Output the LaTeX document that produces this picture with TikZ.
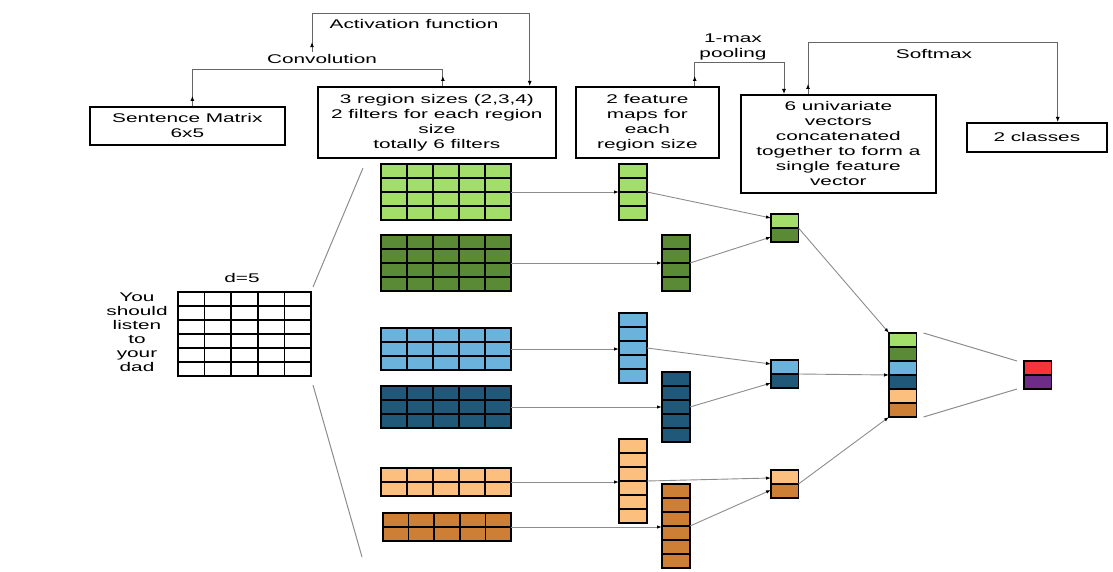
\documentclass[tikz,border=0pt]{standalone}
\usepackage{fontspec}
\newfontfamily\diagfont[FakeStretch=1.65]{Liberation Sans}
\usetikzlibrary{arrows.meta,calc}
\definecolor{lgreen}{HTML}{A3DE6B}
\definecolor{dgreen}{HTML}{5B8A36}
\definecolor{lblue}{HTML}{6BB3DD}
\definecolor{dblue}{HTML}{1F5878}
\definecolor{lorange}{HTML}{FDBF7E}
\definecolor{dorange}{HTML}{CD7F36}
\definecolor{outred}{HTML}{F7343A}
\definecolor{outpurple}{HTML}{6D2C88}
\tikzset{
  txt/.style={font=\diagfont\fontsize{12.6}{15}\selectfont, align=center, inner sep=2pt},
  box/.style={txt, draw=black, line width=1.7pt, anchor=north west},
  cellline/.style={draw=black, line width=1.5pt},
  blockframe/.style={draw=black, line width=1.8pt, inner sep=0pt, outer sep=0pt, anchor=north west},
  flowline/.style={draw=black!60, line width=0.9pt},
  flow/.style={flowline, -{Latex[color=black, length=5pt, width=4pt]}},
  uptip/.style={flow},
  arr/.style={draw=gray!90, line width=0.9pt, -{Latex[color=black, length=5pt, width=3.5pt]}},
  link/.style={draw=gray!90, line width=1pt}
}
% grid of cells: name, x, y, cols, rows, cell width, fill
\newcommand{\cellgrid}[7]{%
  \foreach \ci in {1,...,#4}{
    \foreach \ri in {1,...,#5}{
      \draw[cellline, fill=#7] ({#2+(\ci-1)*#6},{#3+(\ri-1)*14}) rectangle ++(#6,14);
    }
  }
  \node[blockframe, minimum width=#4*#6, minimum height=#5*14] (#1) at (#2,#3) {};
}
% column vector with one colour per cell: name, x, y, rows, colours
\newcommand{\colvec}[5]{%
  \foreach \col [count=\k] in {#5}{
    \draw[cellline, fill=\col] (#2,{#3+(\k-1)*14}) rectangle ++(27.5,14);
  }
  \node[blockframe, minimum width=27.5, minimum height=#4*14] (#1) at (#2,#3) {};
}
\begin{document}
\begin{tikzpicture}[x=1pt, y=-1pt]
\useasboundingbox (0,0) rectangle (1113,572);

% text boxes
\node[box, minimum width=195, minimum height=38] (sent) at (89,106) {Sentence Matrix\\6x5};
\node[box, minimum width=238, minimum height=71] (filt) at (317,86) {3 region sizes (2,3,4)\\2 filters for each region\\size\\totally 6 filters};
\node[box, minimum width=143, minimum height=71] (fmbox) at (575,86) {2 feature\\maps for\\each\\region size};
\node[box, minimum width=195, minimum height=98] (univ) at (740,94) {6 univariate\\vectors\\concatenated\\together to form a\\single feature\\vector};
\node[box, minimum width=140, minimum height=29] (cls) at (966,122) {2 classes};

% step labels
\node[txt] (convlbl) at (322,59) {Convolution};
\node[txt] (actlbl) at (414,24) {Activation function};
\node[txt] (poollbl) at (733,47) {1-max\\pooling};
\node[txt] (softlbl) at (934,54) {Softmax};

% connectors between the boxes
\draw[flowline] ([xshift=5pt]sent.north) -- ++(0,-37) -| ([xshift=6pt]filt.north);
\draw[uptip] ([xshift=5pt]sent.north) -- ++(0,-10);
\draw[uptip] ([xshift=6pt]filt.north) -- ++(0,-10);
\draw[flow] ([xshift=-10pt]convlbl.north) -- ++(0,-39) -| ([xshift=-27pt]filt.north east);
\draw[uptip] ([xshift=-10pt]convlbl.north) -- ++(0,-10);
\draw[flow] ([xshift=-25pt]fmbox.north east) -- ++(0,-24) -| ([xshift=44pt]univ.north west);
\draw[uptip] ([xshift=-25pt]fmbox.north east) -- ++(0,-10);
\draw[flow] ([xshift=68pt]univ.north west) -- ++(0,-52) -| ([xshift=-50pt]cls.north east);
\draw[uptip] ([xshift=68pt]univ.north west) -- ++(0,-10);

% sentence matrix
\cellgrid{sm}{178}{292}{5}{6}{26.6}{white}
\node[txt] (dlbl) at (242,278) {d=5};
\node[txt, font=\diagfont\fontsize{12.6}{14}\selectfont] (words) at (137,332) {You\\should\\listen\\to\\your\\dad};
\coordinate (fantop) at (363,168);
\coordinate (fanbot) at (362,557);
\draw[link] ([xshift=2pt,yshift=5pt]sm.north east) -- (fantop);
\draw[link] ([xshift=2pt,yshift=-9pt]sm.south east) -- (fanbot);

% filters
\cellgrid{gA}{381}{164}{5}{4}{26}{lgreen}
\cellgrid{gB}{381}{235}{5}{4}{26}{dgreen}
\cellgrid{gC}{381}{328}{5}{3}{26}{lblue}
\cellgrid{gD}{381}{386}{5}{3}{26}{dblue}
\cellgrid{gE}{381}{468}{5}{2}{26}{lorange}
\cellgrid{gF}{383}{513}{5}{2}{25.6}{dorange}

% feature maps
\cellgrid{fA}{619}{164}{1}{4}{28}{lgreen}
\cellgrid{fB}{662}{235}{1}{4}{28}{dgreen}
\cellgrid{fC}{619}{313}{1}{5}{28}{lblue}
\cellgrid{fD}{662}{372}{1}{5}{28}{dblue}
\cellgrid{fE}{619}{439}{1}{6}{28}{lorange}
\cellgrid{fF}{662}{484}{1}{6}{28}{dorange}

% pooled, concatenated and output vectors
\colvec{pAB}{771}{214}{2}{lgreen,dgreen}
\colvec{pCD}{771}{360}{2}{lblue,dblue}
\colvec{pEF}{771}{470}{2}{lorange,dorange}
\colvec{cat}{889}{333}{6}{lgreen,dgreen,lblue,dblue,lorange,dorange}
\colvec{out}{1024}{361}{2}{outred,outpurple}

\foreach \g/\f in {gA/fA, gB/fB, gC/fC, gD/fD, gE/fE, gF/fF}
  \draw[arr] (\g.east) -- (\g.east -| \f.west);
\draw[arr] (fA.east) -- ([yshift=10pt]pAB.west);
\draw[arr] (fB.east) -- ([yshift=-9pt]pAB.west);
\draw[arr] (fC.east) -- ([yshift=10pt]pCD.west);
\draw[arr] (fD.east) -- ([yshift=-9pt]pCD.west);
\draw[arr] (fE.east) -- ([yshift=6pt]pEF.west);
\draw[arr] (fF.east) -- ([yshift=-6pt]pEF.west);
\draw[arr] (pAB.east) -- (cat.north west);
\draw[arr] (pCD.east) -- (cat.west);
\draw[arr] (pEF.east) -- (cat.south west);
\draw[link] ([xshift=7pt]cat.north east) -- ([xshift=-7pt]out.north west);
\draw[link] ([xshift=7pt]cat.south east) -- ([xshift=-7pt]out.south west);
\end{tikzpicture}
\end{document}
